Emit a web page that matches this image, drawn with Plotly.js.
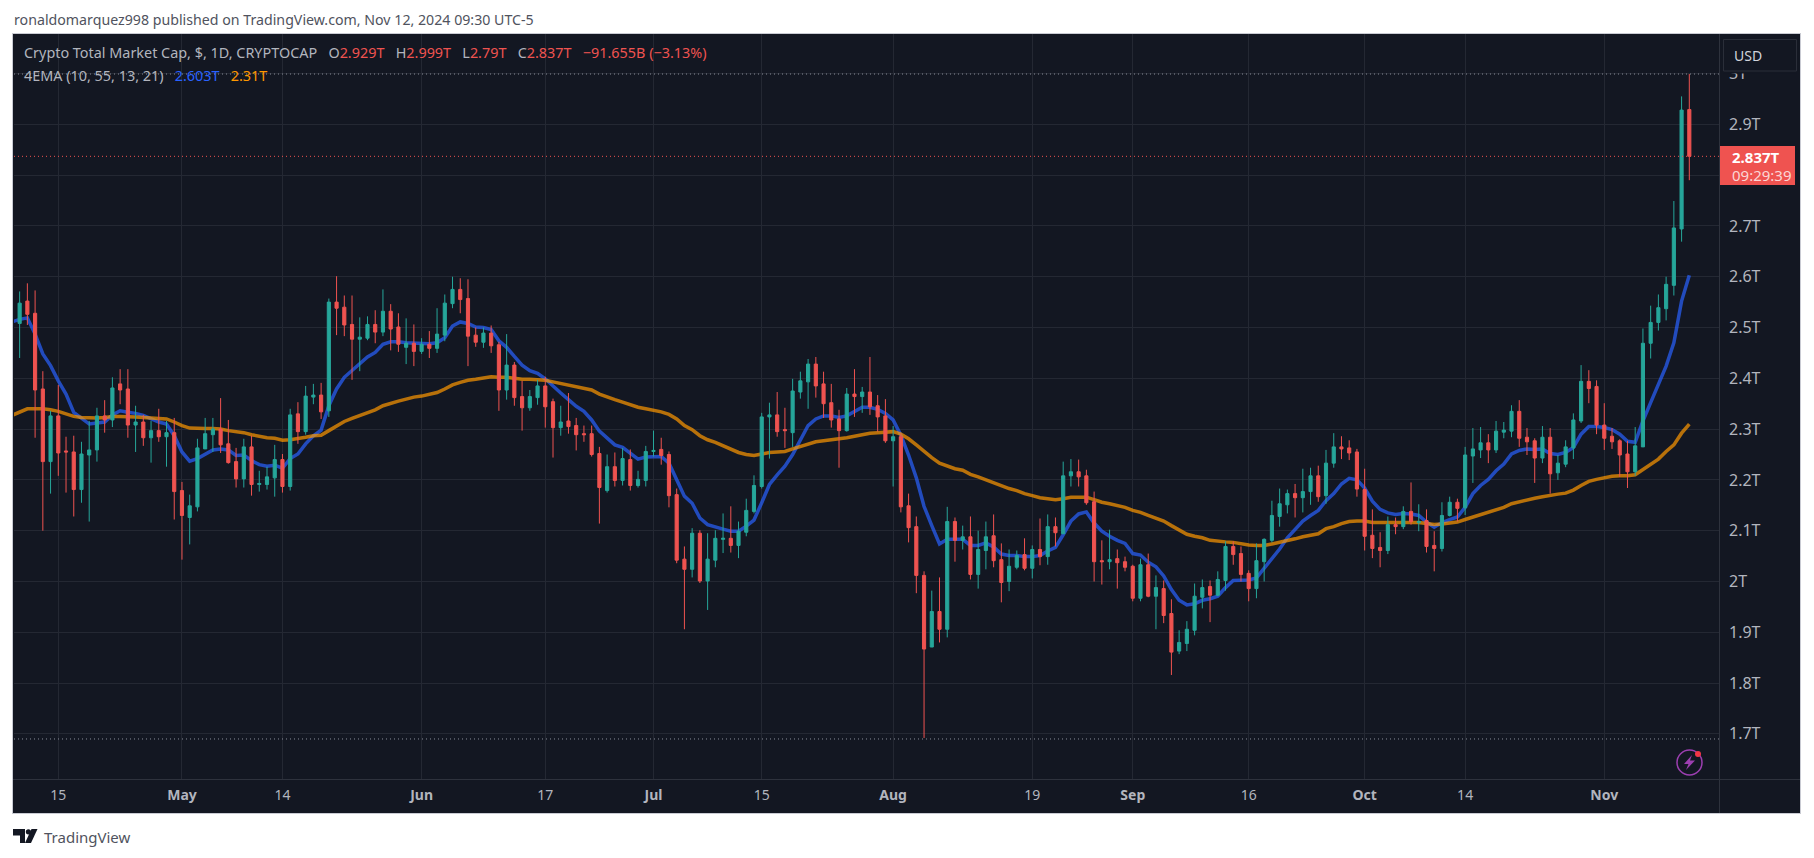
<!DOCTYPE html>
<html>
<head>
<meta charset="utf-8">
<title>Crypto Total Market Cap</title>
<script src="https://cdn.plot.ly/plotly-3.0.1.min.js"></script>
<style>
  html, body { margin: 0; padding: 0; background: #ffffff; }
</style>
</head>
<body>
<div id="graph"></div>
<script>
// Daily candles, in trillions of dollars. One row per month.
const days = [
  "2024-04-09","2024-04-10","2024-04-11","2024-04-12","2024-04-13","2024-04-14","2024-04-15","2024-04-16","2024-04-17","2024-04-18","2024-04-19","2024-04-20","2024-04-21","2024-04-22","2024-04-23","2024-04-24","2024-04-25","2024-04-26","2024-04-27","2024-04-28","2024-04-29","2024-04-30",
  "2024-05-01","2024-05-02","2024-05-03","2024-05-04","2024-05-05","2024-05-06","2024-05-07","2024-05-08","2024-05-09","2024-05-10","2024-05-11","2024-05-12","2024-05-13","2024-05-14","2024-05-15","2024-05-16","2024-05-17","2024-05-18","2024-05-19","2024-05-20","2024-05-21","2024-05-22","2024-05-23","2024-05-24","2024-05-25","2024-05-26","2024-05-27","2024-05-28","2024-05-29","2024-05-30","2024-05-31",
  "2024-06-01","2024-06-02","2024-06-03","2024-06-04","2024-06-05","2024-06-06","2024-06-07","2024-06-08","2024-06-09","2024-06-10","2024-06-11","2024-06-12","2024-06-13","2024-06-14","2024-06-15","2024-06-16","2024-06-17","2024-06-18","2024-06-19","2024-06-20","2024-06-21","2024-06-22","2024-06-23","2024-06-24","2024-06-25","2024-06-26","2024-06-27","2024-06-28","2024-06-29","2024-06-30",
  "2024-07-01","2024-07-02","2024-07-03","2024-07-04","2024-07-05","2024-07-06","2024-07-07","2024-07-08","2024-07-09","2024-07-10","2024-07-11","2024-07-12","2024-07-13","2024-07-14","2024-07-15","2024-07-16","2024-07-17","2024-07-18","2024-07-19","2024-07-20","2024-07-21","2024-07-22","2024-07-23","2024-07-24","2024-07-25","2024-07-26","2024-07-27","2024-07-28","2024-07-29","2024-07-30","2024-07-31",
  "2024-08-01","2024-08-02","2024-08-03","2024-08-04","2024-08-05","2024-08-06","2024-08-07","2024-08-08","2024-08-09","2024-08-10","2024-08-11","2024-08-12","2024-08-13","2024-08-14","2024-08-15","2024-08-16","2024-08-17","2024-08-18","2024-08-19","2024-08-20","2024-08-21","2024-08-22","2024-08-23","2024-08-24","2024-08-25","2024-08-26","2024-08-27","2024-08-28","2024-08-29","2024-08-30","2024-08-31",
  "2024-09-01","2024-09-02","2024-09-03","2024-09-04","2024-09-05","2024-09-06","2024-09-07","2024-09-08","2024-09-09","2024-09-10","2024-09-11","2024-09-12","2024-09-13","2024-09-14","2024-09-15","2024-09-16","2024-09-17","2024-09-18","2024-09-19","2024-09-20","2024-09-21","2024-09-22","2024-09-23","2024-09-24","2024-09-25","2024-09-26","2024-09-27","2024-09-28","2024-09-29","2024-09-30",
  "2024-10-01","2024-10-02","2024-10-03","2024-10-04","2024-10-05","2024-10-06","2024-10-07","2024-10-08","2024-10-09","2024-10-10","2024-10-11","2024-10-12","2024-10-13","2024-10-14","2024-10-15","2024-10-16","2024-10-17","2024-10-18","2024-10-19","2024-10-20","2024-10-21","2024-10-22","2024-10-23","2024-10-24","2024-10-25","2024-10-26","2024-10-27","2024-10-28","2024-10-29","2024-10-30","2024-10-31",
  "2024-11-01","2024-11-02","2024-11-03","2024-11-04","2024-11-05","2024-11-06","2024-11-07","2024-11-08","2024-11-09","2024-11-10","2024-11-11","2024-11-12",
];

const opens = [
  2.605,2.508,2.552,2.528,2.379,2.236,2.326,2.257,2.255,2.181,2.249,2.259,2.326,2.318,2.389,2.379,2.308,2.314,2.283,2.297,2.285,2.293,
  2.179,2.126,2.147,2.261,2.289,2.300,2.271,2.236,2.202,2.265,2.191,2.191,2.204,2.240,2.187,2.330,2.295,2.363,2.367,2.336,2.550,2.540,2.506,2.477,2.479,2.506,2.491,2.532,2.501,2.461,2.469,
  2.453,2.467,2.459,2.485,2.547,2.575,2.557,2.485,2.471,2.489,2.466,2.377,2.426,2.364,2.342,2.362,2.385,2.354,2.303,2.316,2.307,2.291,2.291,2.252,2.179,2.226,2.199,2.240,2.189,2.199,
  2.256,2.260,2.250,2.171,2.044,2.024,2.095,2.001,2.042,2.083,2.085,2.071,2.097,2.138,2.187,2.324,2.328,2.299,2.293,2.373,2.393,2.428,2.389,2.352,2.320,2.297,2.369,2.364,2.373,2.346,2.326,
  2.277,2.285,2.149,2.108,2.012,1.871,1.941,1.906,2.118,2.081,2.088,2.014,2.061,2.090,2.043,2.000,2.028,2.053,2.026,2.063,2.049,2.108,2.094,2.208,2.216,2.208,2.157,2.041,2.039,2.045,2.039,
  2.030,1.967,2.033,1.971,1.986,1.937,1.863,1.878,1.904,1.969,1.990,1.973,2.002,2.069,2.055,2.016,1.986,2.039,2.081,2.128,2.151,2.173,2.165,2.177,2.208,2.169,2.233,2.265,2.263,2.255,
  2.181,2.091,2.067,2.061,2.112,2.108,2.138,2.116,2.120,2.071,2.065,2.130,2.156,2.145,2.247,2.259,2.273,2.259,2.294,2.296,2.335,2.284,2.277,2.243,2.284,2.214,2.231,2.263,2.316,2.394,2.384,
  2.308,2.286,2.277,2.251,2.216,2.265,2.469,2.510,2.537,2.583,2.694,2.929,
];

const highs = [
  2.615,2.571,2.587,2.573,2.414,2.336,2.387,2.285,2.287,2.275,2.316,2.342,2.357,2.402,2.418,2.418,2.346,2.328,2.316,2.340,2.316,2.322,
  2.196,2.171,2.281,2.322,2.322,2.361,2.318,2.263,2.281,2.287,2.218,2.226,2.269,2.251,2.340,2.353,2.385,2.389,2.391,2.557,2.601,2.563,2.563,2.520,2.522,2.534,2.575,2.546,2.528,2.518,2.506,
  2.479,2.493,2.538,2.565,2.600,2.597,2.595,2.500,2.500,2.504,2.472,2.487,2.432,2.395,2.377,2.397,2.403,2.360,2.346,2.371,2.322,2.307,2.307,2.265,2.250,2.254,2.263,2.260,2.218,2.267,
  2.297,2.283,2.256,2.183,2.069,2.105,2.101,2.095,2.101,2.134,2.148,2.118,2.163,2.209,2.332,2.352,2.373,2.342,2.399,2.413,2.438,2.442,2.413,2.389,2.338,2.381,2.418,2.383,2.442,2.367,2.359,
  2.306,2.291,2.173,2.128,2.020,1.982,2.008,2.147,2.126,2.110,2.128,2.100,2.118,2.132,2.075,2.063,2.061,2.085,2.071,2.124,2.132,2.126,2.236,2.241,2.240,2.220,2.177,2.081,2.102,2.063,2.049,
  2.033,2.045,2.055,2.012,2.002,1.965,1.904,1.922,1.996,2.004,2.002,2.020,2.079,2.079,2.069,2.022,2.075,2.085,2.159,2.183,2.181,2.192,2.222,2.224,2.228,2.259,2.292,2.286,2.278,2.261,
  2.222,2.142,2.097,2.128,2.126,2.148,2.195,2.152,2.142,2.099,2.156,2.167,2.163,2.265,2.302,2.304,2.290,2.316,2.314,2.347,2.357,2.302,2.282,2.306,2.302,2.249,2.278,2.331,2.426,2.416,2.396,
  2.351,2.302,2.280,2.277,2.304,2.498,2.543,2.565,2.600,2.749,2.955,2.999,
];

const lows = [
  2.500,2.440,2.505,2.283,2.100,2.173,2.208,2.175,2.128,2.155,2.118,2.236,2.293,2.304,2.349,2.283,2.255,2.267,2.234,2.275,2.226,2.122,
  2.043,2.073,2.138,2.261,2.255,2.253,2.232,2.185,2.185,2.169,2.177,2.181,2.167,2.175,2.179,2.271,2.289,2.349,2.320,2.324,2.485,2.483,2.397,2.414,2.475,2.469,2.483,2.455,2.452,2.428,2.424,
  2.448,2.440,2.450,2.473,2.538,2.528,2.424,2.462,2.460,2.450,2.336,2.358,2.346,2.297,2.336,2.348,2.303,2.244,2.287,2.291,2.258,2.275,2.246,2.114,2.175,2.187,2.189,2.179,2.185,2.187,
  2.246,2.230,2.146,2.036,1.906,2.008,1.997,1.944,2.028,2.056,2.057,2.046,2.089,2.134,2.183,2.242,2.285,2.263,2.265,2.360,2.340,2.362,2.322,2.303,2.224,2.295,2.324,2.332,2.328,2.295,2.273,
  2.187,2.136,2.077,1.977,1.692,1.871,1.880,1.890,2.039,2.063,2.004,1.986,2.024,2.028,1.959,1.981,2.024,2.022,2.006,2.032,2.033,2.069,2.094,2.187,2.187,2.151,2.000,1.994,2.024,1.986,2.020,
  1.961,1.961,1.969,1.906,1.918,1.816,1.857,1.863,1.894,1.947,1.920,1.971,1.982,2.033,2.000,1.961,1.967,2.000,2.077,2.108,2.134,2.126,2.136,2.151,2.157,2.153,2.224,2.241,2.239,2.167,
  2.061,2.046,2.028,2.054,2.093,2.103,2.112,2.099,2.057,2.020,2.059,2.128,2.118,2.131,2.194,2.243,2.233,2.253,2.282,2.284,2.265,2.249,2.194,2.233,2.173,2.200,2.225,2.241,2.312,2.351,2.290,
  2.259,2.261,2.206,2.184,2.208,2.265,2.439,2.494,2.514,2.563,2.669,2.790,
];

const closes = [
  2.510,2.548,2.526,2.377,2.236,2.326,2.253,2.255,2.181,2.251,2.259,2.326,2.318,2.381,2.377,2.308,2.314,2.283,2.297,2.285,2.293,2.177,
  2.130,2.149,2.263,2.291,2.300,2.269,2.234,2.202,2.265,2.191,2.193,2.206,2.240,2.187,2.328,2.295,2.365,2.367,2.334,2.550,2.538,2.505,2.477,2.481,2.506,2.491,2.532,2.497,2.467,2.469,2.453,
  2.467,2.459,2.487,2.548,2.575,2.555,2.483,2.471,2.489,2.464,2.377,2.426,2.362,2.342,2.364,2.385,2.344,2.303,2.314,2.305,2.289,2.289,2.250,2.185,2.226,2.199,2.242,2.189,2.201,2.256,
  2.258,2.248,2.169,2.042,2.024,2.095,2.001,2.044,2.085,2.085,2.071,2.099,2.140,2.189,2.324,2.328,2.295,2.297,2.375,2.395,2.428,2.385,2.350,2.318,2.297,2.369,2.364,2.373,2.344,2.324,2.277,
  2.285,2.147,2.106,2.012,1.867,1.941,1.906,2.118,2.081,2.088,2.014,2.063,2.088,2.041,1.998,2.030,2.051,2.026,2.063,2.049,2.108,2.096,2.208,2.216,2.206,2.155,2.039,2.039,2.043,2.037,2.028,
  1.967,2.033,1.971,1.988,1.933,1.861,1.880,1.906,1.971,1.988,1.973,2.004,2.069,2.053,2.014,1.986,2.041,2.083,2.130,2.153,2.173,2.165,2.177,2.208,2.167,2.233,2.265,2.261,2.253,2.182,
  2.089,2.065,2.061,2.112,2.108,2.138,2.118,2.118,2.069,2.065,2.130,2.156,2.144,2.249,2.261,2.273,2.259,2.296,2.298,2.335,2.282,2.275,2.243,2.284,2.212,2.233,2.265,2.318,2.394,2.380,2.308,
  2.282,2.275,2.249,2.216,2.267,2.469,2.510,2.539,2.585,2.696,2.928,2.837,
];

const emaFast = [
  2.511,2.516,2.519,2.487,2.448,2.425,2.395,2.369,2.333,2.321,2.310,2.312,2.314,2.328,2.336,2.333,2.331,2.327,2.320,2.314,2.310,2.287,
  2.255,2.237,2.242,2.251,2.259,2.261,2.259,2.248,2.249,2.238,2.230,2.227,2.229,2.223,2.242,2.251,2.271,2.287,2.298,2.346,2.379,2.402,2.415,2.428,2.442,2.451,2.467,2.472,2.472,2.470,2.469,
  2.468,2.468,2.470,2.480,2.503,2.511,2.508,2.501,2.500,2.496,2.474,2.461,2.443,2.426,2.415,2.410,2.399,2.384,2.371,2.358,2.345,2.335,2.318,2.296,2.282,2.269,2.264,2.253,2.241,2.245,
  2.246,2.246,2.233,2.201,2.168,2.154,2.125,2.112,2.107,2.103,2.099,2.099,2.109,2.121,2.155,2.191,2.210,2.227,2.250,2.279,2.307,2.320,2.326,2.326,2.323,2.326,2.335,2.343,2.343,2.339,2.331,
  2.318,2.288,2.249,2.204,2.148,2.110,2.074,2.083,2.083,2.083,2.071,2.071,2.076,2.068,2.054,2.051,2.051,2.049,2.049,2.051,2.060,2.067,2.092,2.119,2.133,2.137,2.115,2.099,2.089,2.081,2.075,
  2.055,2.052,2.038,2.029,2.011,1.984,1.963,1.954,1.956,1.963,1.966,1.971,1.988,2.002,2.003,2.003,2.007,2.026,2.045,2.064,2.086,2.102,2.119,2.130,2.140,2.159,2.173,2.192,2.203,2.200,
  2.184,2.158,2.142,2.135,2.132,2.134,2.133,2.130,2.117,2.107,2.116,2.122,2.127,2.146,2.173,2.189,2.201,2.218,2.231,2.251,2.258,2.261,2.260,2.261,2.252,2.250,2.254,2.264,2.290,2.305,2.305,
  2.303,2.299,2.290,2.276,2.274,2.316,2.352,2.388,2.424,2.470,2.552,2.603,
];

const emaSlow = [
  2.327,2.333,2.340,2.340,2.340,2.338,2.335,2.330,2.325,2.323,2.322,2.322,2.323,2.325,2.325,2.325,2.324,2.323,2.322,2.321,2.320,2.314,
  2.307,2.302,2.301,2.301,2.301,2.300,2.297,2.295,2.293,2.289,2.286,2.283,2.282,2.278,2.279,2.281,2.284,2.287,2.288,2.297,2.306,2.315,2.321,2.327,2.333,2.338,2.346,2.351,2.355,2.359,2.363,
  2.365,2.368,2.372,2.379,2.387,2.392,2.396,2.398,2.401,2.403,2.402,2.402,2.400,2.398,2.398,2.397,2.396,2.393,2.390,2.387,2.383,2.381,2.377,2.369,2.363,2.358,2.353,2.348,2.343,2.340,
  2.337,2.334,2.329,2.320,2.307,2.299,2.287,2.279,2.274,2.267,2.261,2.254,2.250,2.248,2.251,2.254,2.255,2.256,2.261,2.266,2.271,2.275,2.277,2.279,2.280,2.283,2.286,2.289,2.292,2.293,2.294,
  2.295,2.290,2.281,2.269,2.256,2.244,2.233,2.228,2.222,2.219,2.211,2.206,2.200,2.195,2.188,2.183,2.179,2.173,2.169,2.165,2.163,2.161,2.163,2.166,2.166,2.166,2.161,2.156,2.153,2.149,2.146,
  2.140,2.136,2.130,2.125,2.119,2.110,2.101,2.093,2.089,2.086,2.081,2.079,2.078,2.077,2.074,2.072,2.071,2.071,2.074,2.077,2.080,2.084,2.088,2.091,2.094,2.104,2.108,2.114,2.118,2.119,
  2.119,2.116,2.116,2.116,2.116,2.116,2.117,2.116,2.114,2.112,2.113,2.115,2.117,2.122,2.127,2.131,2.136,2.141,2.146,2.153,2.157,2.161,2.164,2.167,2.170,2.172,2.174,2.180,2.189,2.197,2.201,
  2.204,2.207,2.208,2.208,2.210,2.220,2.230,2.241,2.256,2.269,2.292,2.310,
];

const priceTicks = [1.7, 1.8, 1.9, 2.0, 2.1, 2.2, 2.3, 2.4, 2.5, 2.6, 2.7, 2.8, 2.9, 3.0];
// 2.8T sits behind the last price tag in the original, so it has no text
const priceLabels = ["1.7T", "1.8T", "1.9T", "2T", "2.1T", "2.2T", "2.3T", "2.4T", "2.5T", "2.6T", "2.7T", "", "2.9T", "3T"];
const dateTicks = ["2024-04-15", "2024-05-01", "2024-05-14", "2024-06-01", "2024-06-17", "2024-07-01", "2024-07-15", "2024-08-01", "2024-08-19", "2024-09-01", "2024-09-16", "2024-10-01", "2024-10-14", "2024-11-01"];
const dateLabels = ["15", "<b>May</b>", "14", "<b>Jun</b>", "17", "<b>Jul</b>", "15", "<b>Aug</b>", "19", "<b>Sep</b>", "16", "<b>Oct</b>", "14", "<b>Nov</b>"];

const highLevel = 2.999;
const lowLevel = 1.69;
const lastPrice = 2.837;

const FONT = '"Noto Sans", Roboto, sans-serif';
const TEXT = "#b2b5be";
const RED = "#ef5350";
const GREEN = "#26a69a";
const PANEL = "#131722";
const GRID = "#242833";
const BORDER = "#2e323d";

// plot area in page pixels
const L = 14, R = 1719, T = 34, B = 779;
const px = (x) => (x - L) / (R - L);
const py = (y) => 1 - (y - T) / (B - T);

function paperRect(x0, y0, x1, y1, fill, extra) {
  return Object.assign({
    type: "rect", xref: "paper", yref: "paper",
    x0: px(x0), x1: px(x1), y0: py(y0), y1: py(y1),
    fillcolor: fill, line: { width: 0 },
  }, extra);
}

function paperPath(points, fill) {
  const d = points.map((p, i) => (i ? "L" : "M") + px(p[0]) + "," + py(p[1])).join(" ") + " Z";
  return { type: "path", xref: "paper", yref: "paper", path: d, fillcolor: fill, line: { width: 0 } };
}

function levelLine(value, color) {
  return {
    type: "line", xref: "paper", yref: "y",
    x0: 0, x1: 1, y0: value, y1: value,
    line: { color: color, width: 1, dash: "1px,3px" },
  };
}

function label(x, y, text, size, color, anchor) {
  return {
    xref: "paper", yref: "paper", x: px(x), y: py(y),
    xanchor: anchor || "left", yanchor: "middle",
    text: text, showarrow: false,
    font: { family: FONT, size: size, color: color },
    borderpad: 0,
  };
}

const fastLine = {
  x: days, y: emaFast, type: "scatter", mode: "lines", xaxis: "x", yaxis: "y",
  line: { color: "rgba(41,98,255,0.7)", width: 3.5 }, hoverinfo: "skip",
};

const slowLine = {
  x: days, y: emaSlow, type: "scatter", mode: "lines", xaxis: "x", yaxis: "y",
  line: { color: "rgba(255,152,0,0.7)", width: 3.5 }, hoverinfo: "skip",
};

// second y axis only so the candles sit on top of the EMA lines
const candles = {
  x: days, open: opens, high: highs, low: lows, close: closes,
  type: "candlestick", xaxis: "x", yaxis: "y2",
  increasing: { line: { color: GREEN, width: 1 }, fillcolor: GREEN },
  decreasing: { line: { color: RED, width: 1 }, fillcolor: RED },
  whiskerwidth: 0, hoverinfo: "skip",
};

const yRange = [1.6112, 3.0778];

const layout = {
  width: 1814,
  height: 858,
  margin: { l: L, r: 1814 - R, t: T, b: 858 - B, pad: 0 },
  paper_bgcolor: "#ffffff",
  plot_bgcolor: PANEL,
  showlegend: false,
  boxgap: 0.42,
  font: { family: FONT, size: 13, color: TEXT },
  xaxis: {
    type: "date",
    range: ["2024-04-09 06:30", "2024-11-15 20:10"],
    rangeslider: { visible: false },
    tickmode: "array", tickvals: dateTicks, ticktext: dateLabels,
    tickangle: 0, ticks: "", ticklabelstandoff: 6,
    tickfont: { family: FONT, size: 14, color: TEXT },
    showgrid: true, gridcolor: GRID, gridwidth: 1, zeroline: false,
  },
  yaxis: {
    side: "right", range: yRange,
    tickmode: "array", tickvals: priceTicks, ticktext: priceLabels,
    ticks: "", ticklabelstandoff: 9,
    tickfont: { family: FONT, size: 16, color: TEXT },
    showgrid: true, gridcolor: GRID, gridwidth: 1, zeroline: false,
  },
  yaxis2: {
    overlaying: "y", side: "right", range: yRange,
    visible: false, showgrid: false, zeroline: false,
  },
  shapes: [
    // panels round the plot, under everything else
    paperRect(12.5, 33.5, 1800.5, 813.5, PANEL, { layer: "below", line: { color: "#c9cbd3", width: 1 } }),
    levelLine(highLevel, "#8a8e99"),
    levelLine(lowLevel, "#8a8e99"),
    levelLine(lastPrice, RED),
    { type: "line", xref: "paper", yref: "paper", x0: px(1719.5), x1: px(1719.5), y0: py(34), y1: py(813), line: { color: BORDER, width: 1 } },
    { type: "line", xref: "paper", yref: "paper", x0: px(13), x1: px(1800), y0: py(779.5), y1: py(779.5), line: { color: BORDER, width: 1 } },
    // USD button hides the top of the 3T label, as in the original
    paperRect(1723, 71, 1797, 73.5, PANEL),
    paperRect(1723.5, 39.5, 1796.5, 71, PANEL, { line: { color: "#2a2e39", width: 1 } }),
    paperRect(1720, 146, 1795, 185, RED),
    // alert icon
    {
      type: "circle", xref: "paper", yref: "paper",
      x0: px(1677), x1: px(1702), y0: py(750), y1: py(775),
      line: { color: "#9c3fb0", width: 1.5 },
    },
    paperPath([[1692, 755], [1684, 764], [1688.5, 764], [1686, 770], [1695, 760.5], [1690, 760.5]], "#9c3fb0"),
    { type: "circle", xref: "paper", yref: "paper", x0: px(1695), x1: px(1701), y0: py(751), y1: py(757), fillcolor: "#f23645", line: { width: 0 } },
    // TradingView logo
    paperPath([[13, 829], [25, 829], [25, 843], [20, 843], [20, 835.5], [13, 835.5]], PANEL),
    { type: "circle", xref: "paper", yref: "paper", x0: px(25.8), x1: px(31), y0: py(829.2), y1: py(834.4), fillcolor: PANEL, line: { width: 0 } },
    paperPath([[31.5, 829], [37.5, 829], [31, 843], [25, 843]], PANEL),
  ],
  annotations: [
    label(13, 20, "ronaldomarquez998 published on TradingView.com, Nov 12, 2024 09:30 UTC-5", 14.2, "#50535e"),
    label(23, 53,
      'Crypto Total Market Cap, $, 1D, CRYPTOCAP\u00a0\u00a0\u00a0O<span style="color:#ef5350">2.929T</span>\u00a0\u00a0\u00a0H<span style="color:#ef5350">2.999T</span>\u00a0\u00a0\u00a0L<span style="color:#ef5350">2.79T</span>\u00a0\u00a0\u00a0C<span style="color:#ef5350">2.837T</span>\u00a0\u00a0\u00a0<span style="color:#ef5350">\u221291.655B (\u22123.13%)</span>',
      14.4, TEXT),
    label(23, 75,
      '4EMA (10, 55, 13, 21)\u00a0\u00a0\u00a0<span style="color:#2962ff">2.603T</span>\u00a0\u00a0\u00a0<span style="color:#ff9800">2.31T</span>',
      14.4, TEXT),
    label(1748, 55, "USD", 14, "#d1d4dc", "center"),
    label(1731, 157, "<b>2.837T</b>", 15, "#ffffff"),
    label(1731, 175, "09:29:39", 15, "#fbd6d5"),
    label(43, 837, "TradingView", 15, "#50535e"),
  ],
};

Plotly.newPlot("graph", [fastLine, slowLine, candles], layout, { displayModeBar: false });
</script>
</body>
</html>
